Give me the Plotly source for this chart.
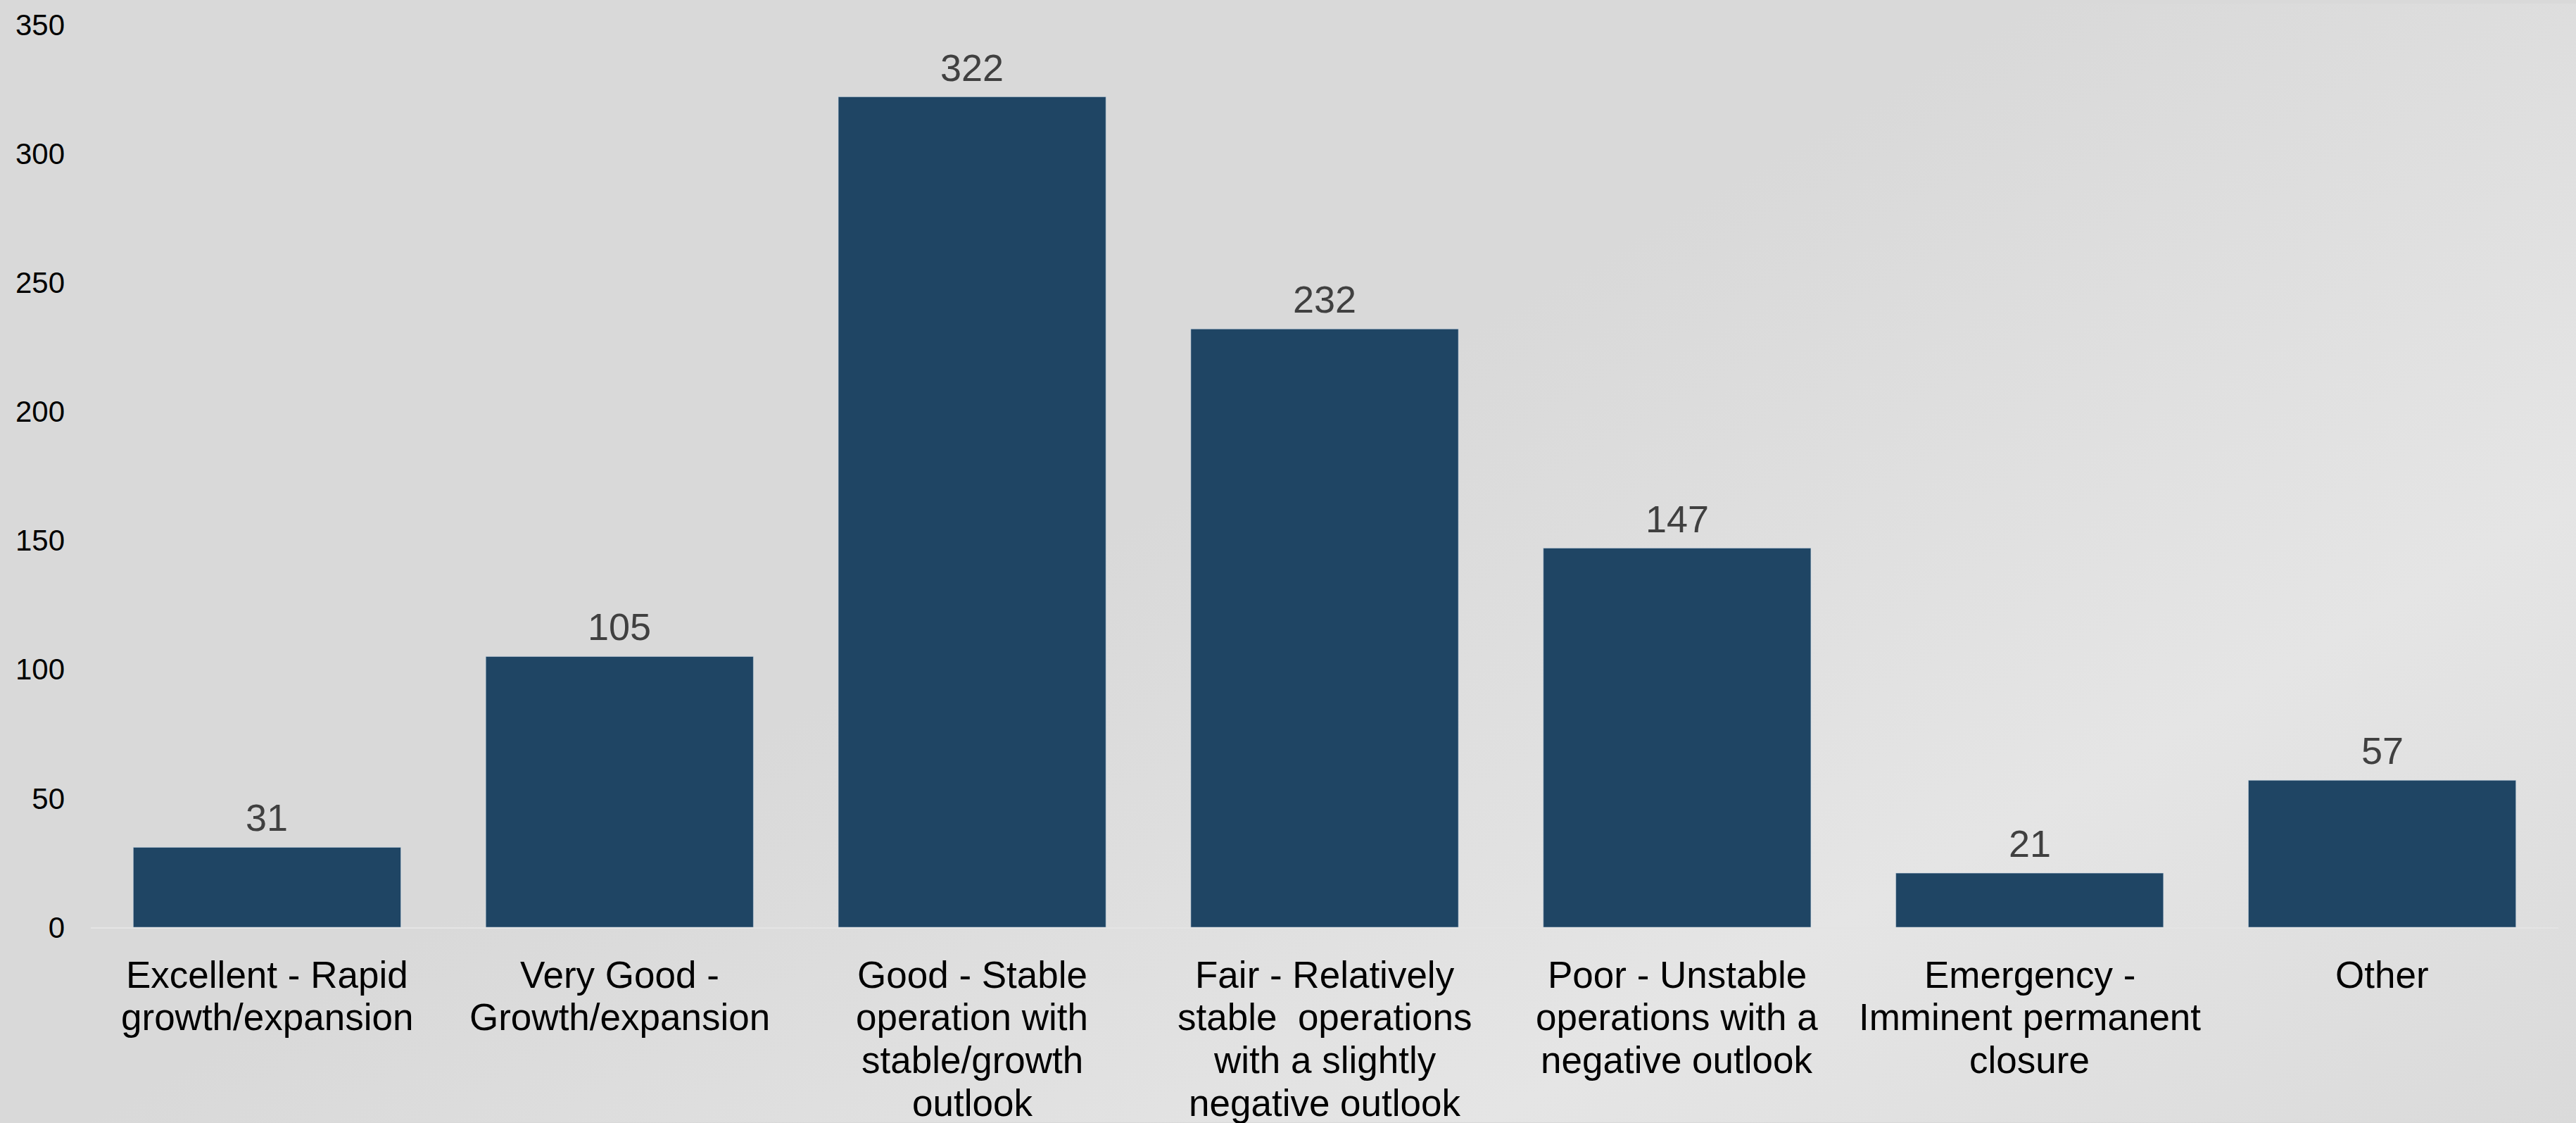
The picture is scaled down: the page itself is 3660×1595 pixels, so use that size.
import base64
import plotly.graph_objects as go

# Survey responses by business condition
categories = [
    "Excellent - Rapid<br>growth/expansion",
    "Very Good -<br>Growth/expansion",
    "Good - Stable<br>operation with<br>stable/growth<br>outlook",
    "Fair - Relatively<br>stable\u00a0 operations<br>with a slightly<br>negative outlook",
    "Poor - Unstable<br>operations with a<br>negative outlook",
    "Emergency -<br>Imminent permanent<br>closure",
    "Other",
]
counts = [31, 105, 322, 232, 147, 21, 57]
y_ticks = [0, 50, 100, 150, 200, 250, 300, 350]

W, H = 3660, 1595
M_L, M_R, M_T, M_B = 129, 25, 30, 278
PLOT_W = W - M_L - M_R
PLOT_H = H - M_T - M_B

BAR_COLOR = "#1F4564"
FONT = "Liberation Sans, Arial, Helvetica, sans-serif"

# soft diagonal grey gradient for the page background
bg_svg = f"""<svg xmlns='http://www.w3.org/2000/svg' width='{W}' height='{H}' viewBox='0 0 {W} {H}' preserveAspectRatio='none'>
<defs><linearGradient id='g' gradientUnits='userSpaceOnUse' x1='0' y1='0' x2='1597' y2='2780'>
<stop offset='0' stop-color='#d9d9d9'/>
<stop offset='0.45' stop-color='#d9d9d9'/>
<stop offset='0.76' stop-color='#e5e5e5'/>
<stop offset='1' stop-color='#dadada'/>
</linearGradient></defs>
<rect x='0' y='0' width='{W}' height='{H}' fill='url(#g)'/>
</svg>"""
bg_src = "data:image/svg+xml;base64," + base64.b64encode(bg_svg.encode()).decode()

x_keys = list(range(len(categories)))

fig = go.Figure(
    go.Bar(
        x=x_keys,
        y=counts,
        marker=dict(color=BAR_COLOR, line=dict(color="rgba(200,215,230,0.55)", width=1)),
        width=0.759,
        hoverinfo="skip",
    )
)

annotations = []
# value labels above each bar
for xk, v in zip(x_keys, counts):
    annotations.append(dict(
        x=xk, y=v, xref="x", yref="y", text=str(v), showarrow=False,
        yanchor="middle", xanchor="center", yshift=42,
        font=dict(family=FONT, size=54, color="#404040"),
    ))
# category labels, one annotation per line for tight line spacing
LINE_H = 60.7
for xk, label in zip(x_keys, categories):
    for i, line in enumerate(label.split("<br>")):
        annotations.append(dict(
            x=xk, y=0, xref="x", yref="y", text=line, showarrow=False,
            yanchor="middle", xanchor="center", yshift=-(67 + LINE_H * i),
            font=dict(family=FONT, size=53, color="#000000"),
        ))

fig.update_layout(
    width=W,
    height=H,
    margin=dict(l=M_L, r=M_R, t=M_T, b=M_B, pad=0),
    paper_bgcolor="#d9d9d9",
    plot_bgcolor="rgba(0,0,0,0)",
    showlegend=False,
    font=dict(family=FONT, color="#000000"),
    annotations=annotations,
    images=[dict(
        source=bg_src, xref="paper", yref="paper",
        x=-M_L / PLOT_W, y=1 + M_T / PLOT_H,
        sizex=W / PLOT_W, sizey=H / PLOT_H,
        xanchor="left", yanchor="top", sizing="stretch", layer="below",
    )],
    xaxis=dict(
        range=[-0.5, len(categories) - 0.5],
        showticklabels=False,
        showgrid=False,
        zeroline=False,
        showline=True,
        linecolor="#e4e4e4",
        linewidth=2,
        ticks="",
    ),
    yaxis=dict(
        range=[0, 350],
        tickvals=y_ticks,
        ticktext=[str(t) for t in y_ticks],
        tickfont=dict(family=FONT, size=42, color="#000000"),
        showgrid=False,
        zeroline=False,
        showline=False,
        ticks="",
        ticklabelstandoff=36,
    ),
)

fig.write_html("out.html")
